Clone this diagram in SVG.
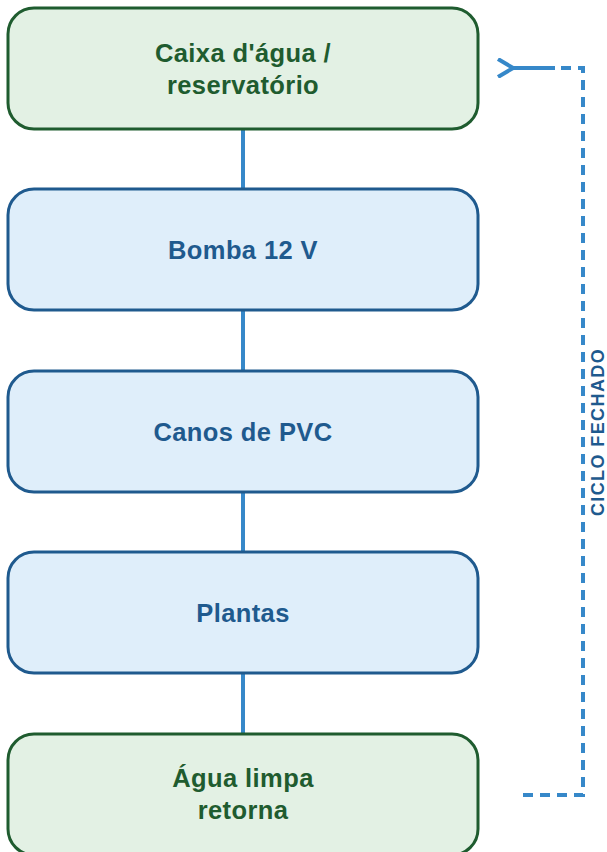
<svg xmlns="http://www.w3.org/2000/svg" width="607" height="852" viewBox="0 0 607 852">
<style>
.g rect{fill:#e3f1e4;stroke:#1f5c2f;stroke-width:3}
.b rect{fill:#dfeefa;stroke:#1f5a8e;stroke-width:3}
text{font-family:"Liberation Sans",Arial,sans-serif;font-weight:bold;font-size:25.5px;text-anchor:middle;letter-spacing:0.4px}
.g text{fill:#1f5c2f}
.b text{fill:#1f5a8e}
.c{stroke:#3688c9;stroke-width:4;fill:none}
.d{stroke:#3688c9;stroke-width:4;fill:none;stroke-dasharray:10 7}
</style>
<defs>
<marker id="m" markerWidth="20" markerHeight="20" refX="2" refY="10" orient="auto" markerUnits="userSpaceOnUse">
<path d="M17,1 L2,10 L17,19" fill="none" stroke="#3688c9" stroke-width="4"/>
</marker>
</defs>
<g id="connectors">
<line class="c" x1="243" y1="129" x2="243" y2="189"/>
<line class="c" x1="243" y1="310" x2="243" y2="371"/>
<line class="c" x1="243" y1="492" x2="243" y2="552"/>
<line class="c" x1="243" y1="673" x2="243" y2="734"/>
<path class="d" d="M523,795 H583 V68 H553"/>
<path class="c" d="M555,68 H513" marker-end="url(#m)"/>
<text x="0" y="0" transform="translate(604,432) rotate(-90)" style="font-size:18px;letter-spacing:1.4px;fill:#1f5a8e">CICLO FECHADO</text>
</g>
<g id="n1" class="g"><rect x="8" y="8" width="470" height="121" rx="26"/><text x="243" y="62">Caixa d'água /</text><text x="243" y="94">reservatório</text></g>
<g id="n2" class="b"><rect x="8" y="189" width="470" height="121" rx="26"/><text x="243" y="259">Bomba 12 V</text></g>
<g id="n3" class="b"><rect x="8" y="371" width="470" height="121" rx="26"/><text x="243" y="441">Canos de PVC</text></g>
<g id="n4" class="b"><rect x="8" y="552" width="470" height="121" rx="26"/><text x="243" y="622">Plantas</text></g>
<g id="n5" class="g"><rect x="8" y="734" width="470" height="121" rx="26"/><text x="243" y="787">Água limpa</text><text x="243" y="819">retorna</text></g>
</svg>
